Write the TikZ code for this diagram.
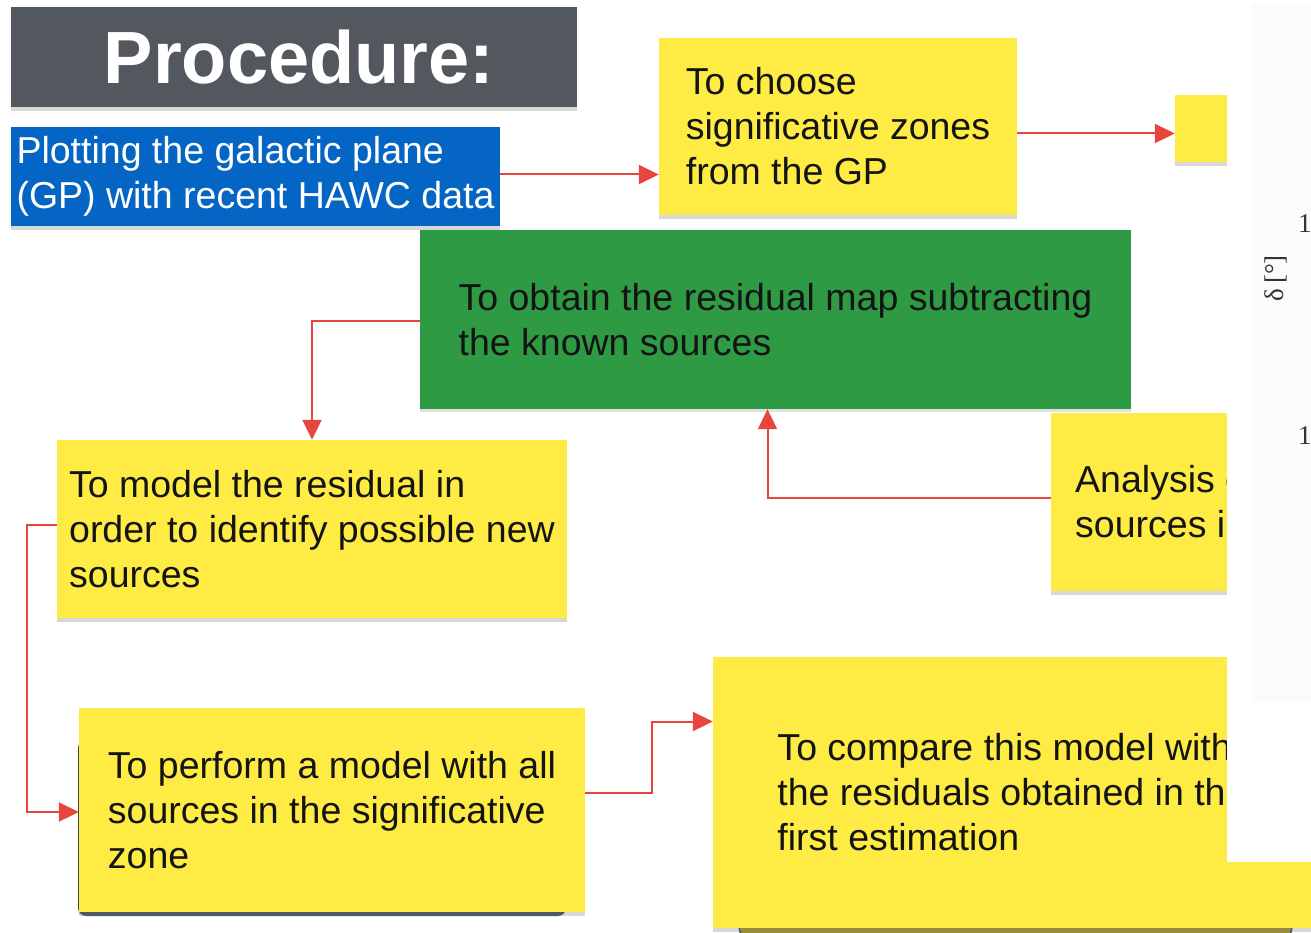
\documentclass[tikz,border=0pt]{standalone}
\usepackage{fontspec}
\setmainfont{Liberation Sans}
\newfontfamily\plotfont{Liberation Serif}
\usetikzlibrary{arrows.meta, shadows, calc}
\definecolor{SlateGray}{HTML}{53575E}
\definecolor{SlideBlue}{HTML}{0565C4}
\definecolor{NoteYellow}{HTML}{FEEC44}
\definecolor{FeltGreen}{HTML}{2E9A44}
\definecolor{ArrowRed}{HTML}{E8453C}
\definecolor{InkBlack}{HTML}{141414}
\definecolor{UnderNavy}{HTML}{3A4658}
\definecolor{UnderOlive}{HTML}{9C9428}
\newcommand\notefont{\fontsize{37.5}{45}\selectfont}
\tikzset{
  % Box styles
  headerbox/.style={rectangle, fill=SlateGray, text=white, inner sep=0pt, font=\fontsize{74}{80}\selectfont\bfseries, drop shadow={shadow xshift=0pt, shadow yshift=-4pt, opacity=0.3}},
  bluebox/.style={rectangle, fill=SlideBlue, text=white, inner sep=0pt, align=left, font=\notefont, drop shadow={shadow xshift=0pt, shadow yshift=-4pt, opacity=0.3}},
  notebox/.style={rectangle, fill=NoteYellow, text=InkBlack, inner sep=0pt, align=left, font=\notefont, drop shadow={shadow xshift=0pt, shadow yshift=-4pt, opacity=0.3}},
  greenbox/.style={rectangle, fill=FeltGreen, text=InkBlack, inner sep=0pt, align=left, font=\notefont, drop shadow={shadow xshift=0pt, shadow yshift=-3pt, opacity=0.25}},
  % Arrow styles
  flowarrow/.style={-{Triangle[length=20pt,width=19pt]}, line width=2pt, ArrowRed},
  % Plot labels
  plotlabel/.style={inner sep=0pt, text=black!80, font=\plotfont\fontsize{27}{30}\selectfont}
}

\begin{document}
\begin{tikzpicture}[x=1pt, y=-1pt]
  \useasboundingbox (0,0) rectangle (1311,933);
  \fill[white] (0,0) rectangle (1311,933);

  % Dark shapes peeking out under the lower boxes
  \fill[UnderNavy, rounded corners=8pt] (78,740) rectangle (566,916);
  \filldraw[fill=UnderOlive, draw=UnderNavy, line width=1.5pt, rounded corners=25pt] (739,880) rectangle (1292,950);

  % Header and first step
  \node[headerbox, minimum width=566pt, minimum height=100pt] (title) at (294,57) {\hspace*{10pt}Procedure:};
  \node[bluebox, minimum width=489pt, minimum height=99pt] (plotgp) at (255.5,176.5) {Plotting the galactic plane\\(GP) with recent HAWC data};

  % Steps
  \node[notebox, minimum width=358pt, minimum height=177pt] (choose) at (838,126.5) {To choose\\significative zones\\from the GP};
  \node[notebox, minimum width=85pt, minimum height=67pt] (next) at (1217.5,128.5) {};
  \node[greenbox, minimum width=711pt, minimum height=179pt] (residual) at (775.5,319.5) {To obtain the residual map subtracting\\the known sources};
  \node[notebox, minimum width=510pt, minimum height=178pt] (model) at (312,529) {To model the residual in\\order to identify possible new\\sources};
  \node[notebox, anchor=west, inner xsep=24pt, minimum height=178pt] (analysis) at (1051,502) {Analysis of\\sources in};
  \node[notebox, minimum width=506pt, minimum height=204pt] (perform) at (332,810) {To perform a model with all\\sources in the significative\\zone};
  \node[notebox, minimum width=598pt, minimum height=271pt] (compare) at (1012,792.5) {To compare this model with\\the residuals obtained in the\\first estimation};

  % Arrows
  \draw[flowarrow] ([yshift=2pt]plotgp.east) -- ([yshift=2pt]plotgp.east -| choose.west);
  \draw[flowarrow] ([yshift=-7pt]choose.east) -- ([yshift=-7pt]choose.east -| next.west);
  \draw[flowarrow] ([yshift=-1pt]residual.west) -| (model.north);
  \draw[flowarrow] ([yshift=4pt]model.west) -- ++(-30,0) |- ([yshift=-2pt]perform.west);
  \draw[flowarrow] ([yshift=17pt]perform.east) -- ++(67,0) |- ([yshift=71pt]compare.west);
  \draw[flowarrow] ([yshift=4pt]analysis.west) -| ([xshift=-8pt]residual.south);

  % Plot panel over the right edge
  \fill[white] (1227,0) rectangle (1311,862);
  \fill[black!1.5] (1252,4) rectangle (1311,702);
  \node[plotlabel, rotate=90] (declabel) at (1276,278) {δ\,[°]};
  \node[plotlabel, anchor=west] (tickup) at (1298,224) {1};
  \node[plotlabel, anchor=west] (tickdown) at (1298,436) {1};
\end{tikzpicture}
\end{document}
